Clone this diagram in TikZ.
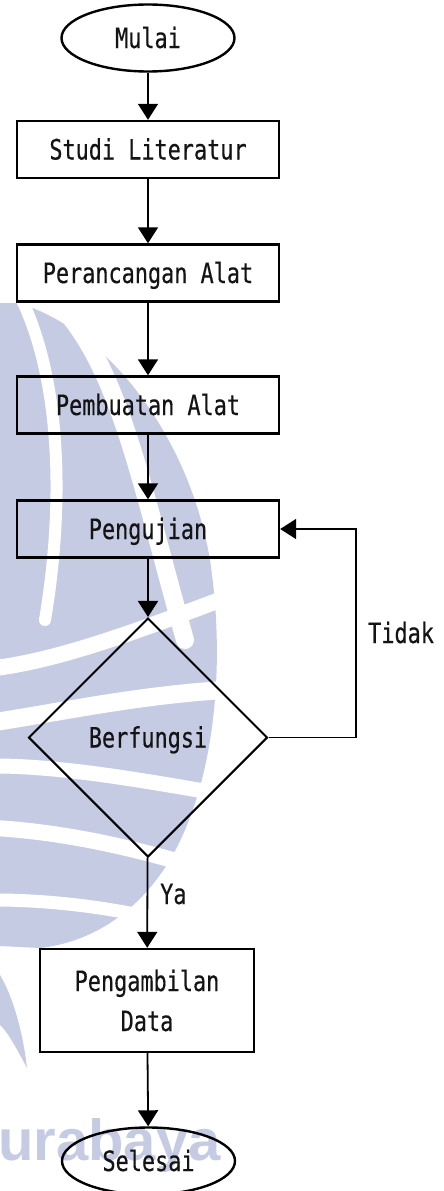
\documentclass[tikz,border=0pt]{standalone}
\usepackage{fontspec}
\usetikzlibrary{shapes.geometric,arrows.meta}
\newfontfamily\flowfont[FakeStretch=0.78,FakeBold=0.4]{DejaVu Sans Mono}
\newfontfamily\wmfont{Liberation Sans}
\definecolor{wmark}{RGB}{198,203,228}
\definecolor{ink}{RGB}{20,20,20}

\begin{document}
\begin{tikzpicture}[x=1pt,y=-1pt,
  every node/.style={font=\flowfont\fontsize{28}{40}\selectfont, text=ink},
  capline/.style={text height=20pt, text depth=0pt},
  proc/.style={draw, line width=2.4pt, rectangle, minimum width=262pt,
    minimum height=57pt, inner sep=0pt},
  term/.style={draw, line width=2.4pt, ellipse, minimum width=173pt,
    minimum height=67pt, inner sep=0pt, capline},
  decide/.style={draw, line width=2pt, diamond, aspect=1, minimum width=239pt,
    minimum height=239pt, inner sep=0pt, capline},
  flow/.style={line width=1.8pt, -{Triangle[length=16pt,width=20pt]}},
  lbl/.style={inner sep=0pt, capline},
  stripe/.style={draw=white, line cap=round}
]
\useasboundingbox (0,0) rectangle (444,1191);

% faint logo in the background
\begin{scope}
  \clip (0,0) rectangle (444,1191);
  \fill[wmark] (18,303) .. controls (110,330) and (190,440) .. (210,560)
    .. controls (225,660) and (215,760) .. (185,830)
    .. controls (160,890) and (110,940) .. (40,948) -- (0,946) -- (0,303) -- cycle;
  \draw[stripe, line width=12pt] (22,300) .. controls (60,380) and (65,500) .. (45,620);
  \draw[stripe, line width=18pt] (60,305) .. controls (120,370) and (140,480) .. (185,640);
  \draw[stripe, line width=16pt] (-5,668) .. controls (60,660) and (140,630) .. (225,598);
  \draw[stripe, line width=18pt] (-5,722) .. controls (60,712) and (140,695) .. (225,690);
  \draw[stripe, line width=15pt] (-5,766) .. controls (60,766) and (140,780) .. (210,792);
  \draw[stripe, line width=16pt] (-5,828) .. controls (60,832) and (120,845) .. (180,862);
  \draw[stripe, line width=13pt] (-5,900) .. controls (40,900) and (90,905) .. (140,915);
  \fill[wmark] (0,975) .. controls (15,1000) and (24,1040) .. (27,1068)
    .. controls (15,1045) and (6,1030) .. (0,1025) -- cycle;
  \node[anchor=base west, inner sep=0pt, text=wmark,
    font=\wmfont\bfseries\fontsize{58}{60}\selectfont] (wm) at (-2,1160) {urabaya};
\end{scope}

% flowchart
\node[term] (start) at (148,38) {Mulai};
\node[proc, capline] (lit) at (148,149.5) {Studi Literatur};
\node[proc, capline] (design) at (148,273) {Perancangan Alat};
\node[proc, capline] (build) at (148,405) {Pembuatan Alat};
\node[proc, capline] (test) at (148,529) {Pengujian};
\node[decide] (ok) at (148,737.5) {Berfungsi};
\node[proc, minimum width=214pt, minimum height=103pt, align=center]
  (data) at (147,1000.5) {Pengambilan\\Data};
\node[term] (stop) at (148.5,1161) {Selesai};

\coordinate (loopA) at (356,737.5);
\coordinate (loopB) at (356,529);

\draw[flow] (start) -- (lit);
\draw[flow] (lit) -- (design);
\draw[flow] (design) -- (build);
\draw[flow] (build) -- (test);
\draw[flow] (test) -- (ok);
\draw[flow] (ok) -- (data);
\draw[flow] (data) -- (stop);
\draw[flow] (ok.east) -- (loopA) -- (loopB) -- (test.east);

\node[lbl, anchor=west] (no) at (368,633) {Tidak};
\node[lbl, anchor=west] (yes) at (160,894) {Ya};
\end{tikzpicture}
\end{document}
